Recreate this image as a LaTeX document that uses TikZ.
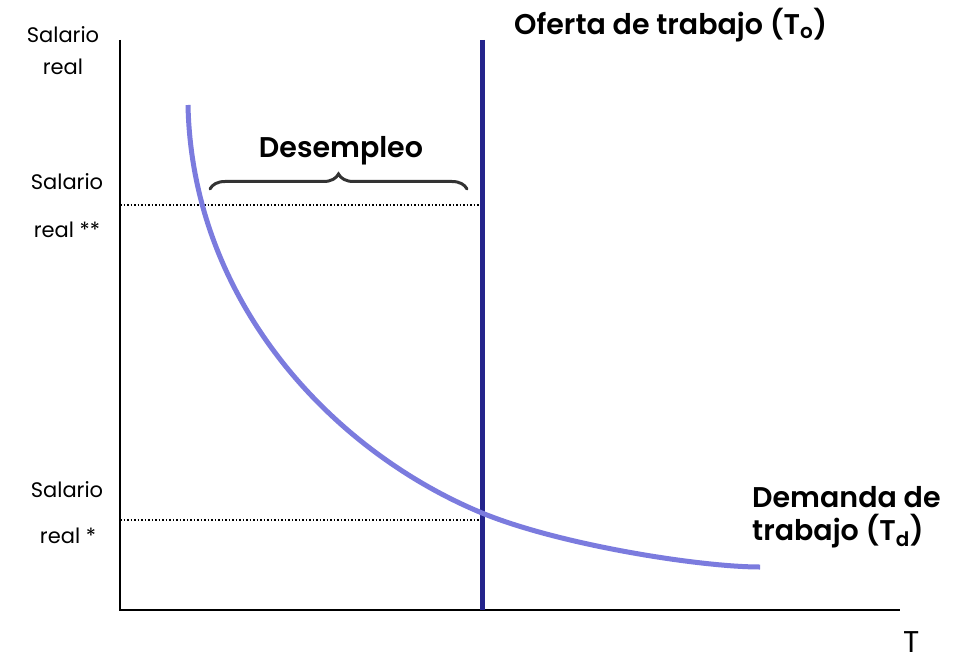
\documentclass[tikz,border=0pt]{standalone}
\usepackage{fontspec}
\setmainfont{Poppins}[BoldFont={Poppins SemiBold}]
\usetikzlibrary{decorations.pathreplacing}
\definecolor{demandc}{RGB}{123,123,222}
\definecolor{supplyc}{RGB}{36,36,140}
\definecolor{bracec}{RGB}{51,51,51}
\begin{document}
\begin{tikzpicture}[x=1pt,y=-1pt,
  axis/.style={line width=2pt,black},
  guide/.style={line width=1.5pt,dotted},
  lab/.style={inner sep=0pt,font=\fontsize{21}{24}\selectfont},
  big/.style={inner sep=0pt,font=\fontsize{28.5}{32}\selectfont\bfseries}]
\useasboundingbox (0,0) rectangle (957,668);
% axes
\coordinate (ytop) at (120,40);
\coordinate (orig) at (120,610);
\coordinate (xend) at (900,610);
\draw[axis] (ytop) -- (orig) -- (xend);
% guides
\coordinate (g2a) at (120,205);
\coordinate (g2b) at (482,205);
\coordinate (g1a) at (120,520);
\coordinate (g1b) at (482,520);
\draw[guide] (g2a) -- (g2b);
\draw[guide] (g1a) -- (g1b);
% supply
\coordinate (stop) at (482,40);
\coordinate (sbot) at (482,610);
\draw[supplyc,line width=5pt] (stop) -- (sbot);
% demand
\coordinate (d0) at (188,105);
\coordinate (dm) at (482,513);
\coordinate (d1) at (760,567);
\draw[demandc,line width=5pt] (d0) .. controls (192,300) and (330,450) .. (dm)
  .. controls (560,545) and (700,567) .. (d1);
% brace
\coordinate (bl) at (210,189);
\coordinate (br) at (467,189);
\draw[bracec,line width=3pt,line cap=round,decorate,decoration={brace,amplitude=15pt,aspect=0.5}] (bl) -- (br);
% labels
\node[lab,anchor=base] (s1) at (63,43) {Salario};
\node[lab,anchor=base] (r1) at (63,75) {real};
\node[lab,anchor=base] (s2) at (67,190) {Salario};
\node[lab,anchor=base] (r2) at (67,237) {real **};
\node[lab,anchor=base] (s3) at (67,497) {Salario};
\node[lab,anchor=base] (r3) at (68,543) {real *};
\node[big,anchor=base] (des) at (341,158) {Desempleo};
\node[big,anchor=base west] (of) at (514,35) {Oferta de trabajo (T\textsubscript{o})};
\node[big,anchor=base west] (dm1) at (752,507) {Demanda de};
\node[big,anchor=base west] (dm2) at (752,540) {trabajo (T\textsubscript{d})};
\node[lab,font=\fontsize{30}{32}\selectfont,anchor=base] (tx) at (912,652) {T};
\end{tikzpicture}
\end{document}
